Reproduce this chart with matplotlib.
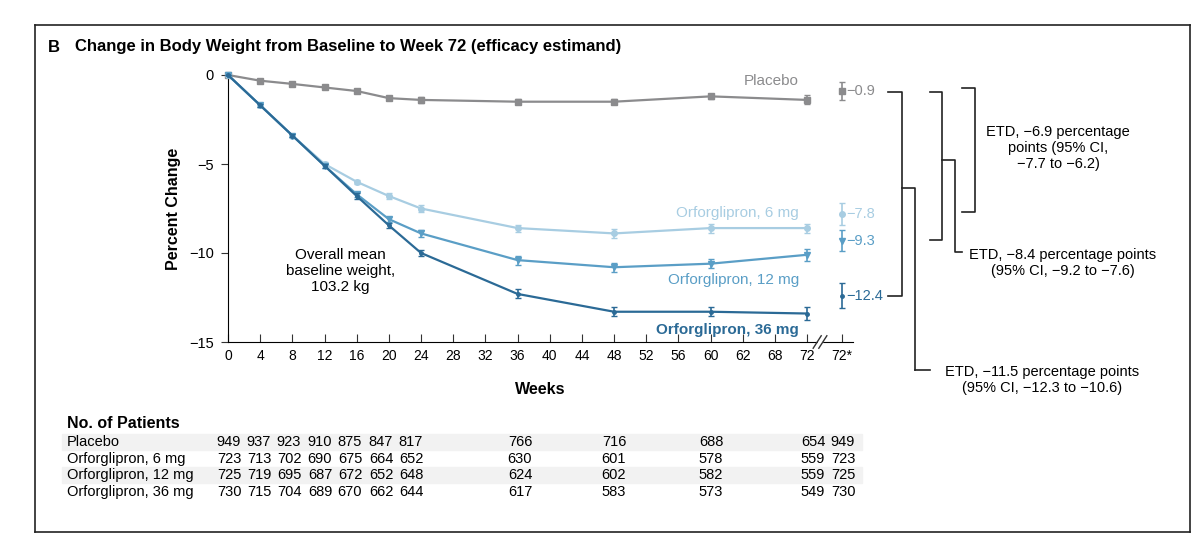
import matplotlib
matplotlib.use("Agg")
import matplotlib.pyplot as plt
from matplotlib.lines import Line2D
from matplotlib.patches import Rectangle

plt.rcParams['font.family'] = ['Liberation Sans', 'DejaVu Sans']

weeks = [0, 4, 8, 12, 16, 20, 24, 36, 48, 60, 72]
placebo = [0, -0.32, -0.5, -0.7, -0.9, -1.3, -1.4, -1.5, -1.5, -1.2, -1.4]
placebo_err = [0, 0.08, 0.08, 0.1, 0.1, 0.12, 0.15, 0.15, 0.15, 0.15, 0.25]
mg6 = [0, -1.7, -3.4, -5.0, -6.0, -6.8, -7.5, -8.6, -8.9, -8.6, -8.6]
mg6_err = [0, 0.08, 0.1, 0.1, 0.12, 0.15, 0.18, 0.2, 0.25, 0.25, 0.25]
mg12 = [0, -1.7, -3.4, -5.1, -6.7, -8.1, -8.9, -10.4, -10.8, -10.6, -10.1]
mg12_err = [0, 0.08, 0.1, 0.1, 0.15, 0.15, 0.18, 0.25, 0.25, 0.25, 0.35]
mg36 = [0, -1.7, -3.4, -5.1, -6.8, -8.45, -10.0, -12.3, -13.3, -13.3, -13.4]
mg36_err = [0, 0.08, 0.1, 0.1, 0.15, 0.15, 0.18, 0.25, 0.25, 0.25, 0.35]

star_vals = [-0.9, -7.8, -9.3, -12.4]
star_err = [0.5, 0.6, 0.6, 0.7]
star_labels = ["\u22120.9", "\u22127.8", "\u22129.3", "\u221212.4"]

tick_weeks = list(range(0, 73, 4))
tick_labels = ["0", "4", "8", "12", "16", "20", "24", "28", "32", "36", "40", "44",
               "48", "52", "56", "60", "62", "68", "72"]

series_names = ["Placebo", "Orforglipron, 6 mg", "Orforglipron, 12 mg", "Orforglipron, 36 mg"]
colors = ["#8b8b8d", "#a8cde2", "#5a9ec6", "#2b6a96"]
markers = ["s", "o", "v", "."]

table_rows = [
    [949, 937, 923, 910, 875, 847, 817, 766, 716, 688, 654, 949],
    [723, 713, 702, 690, 675, 664, 652, 630, 601, 578, 559, 723],
    [725, 719, 695, 687, 672, 652, 648, 624, 602, 582, 559, 725],
    [730, 715, 704, 689, 670, 662, 644, 617, 583, 573, 549, 730],
]
table_col_px = [229, 259, 289, 320, 350, 381, 411, 520, 614, 711, 813, 843]

W, H = 1200, 548
fig = plt.figure(figsize=(12, 5.48), dpi=100)
ax = fig.add_axes([228 / W, 1 - 342 / H, (853 - 228) / W, (342 - 75) / H])
star_x = 76.3
ax.set_xlim(0, 77.7)
ax.set_ylim(-15, 0)

data = [(placebo, placebo_err), (mg6, mg6_err), (mg12, mg12_err), (mg36, mg36_err)]
for i, ((v, e), c, m) in enumerate(zip(data, colors, markers)):
    ax.errorbar(weeks, v, yerr=e, color=c, marker=m, ms=4 if m != "." else 5,
                lw=1.6, capsize=2.5, elinewidth=1.2, clip_on=False, zorder=3 + i)
    ax.errorbar([star_x], [star_vals[i]], yerr=[star_err[i]], color=c, marker=m,
                ms=4 if m != "." else 5, capsize=2.5, elinewidth=1.2, clip_on=False)
    ax.text(star_x + 0.6, star_vals[i], star_labels[i], color=c, fontsize=10.5,
            va="center", ha="left")

ax.text(71, -0.75, "Placebo", color=colors[0], fontsize=11, ha="right", va="bottom")
ax.text(71, -7.75, "Orforglipron, 6 mg", color=colors[1], fontsize=11, ha="right", va="center")
ax.text(71, -11.5, "Orforglipron, 12 mg", color=colors[2], fontsize=11, ha="right", va="center")
ax.text(71, -14.3, "Orforglipron, 36 mg", color=colors[3], fontsize=11, ha="right",
        va="center", fontweight="bold")
ax.text(14, -11.0, "Overall mean\nbaseline weight,\n103.2 kg", fontsize=11, ha="center",
        va="center", linespacing=1.2)

ax.set_xticks(tick_weeks + [star_x])
ax.set_xticklabels(tick_labels + ["72*"], fontsize=10.5)
ax.set_yticks([0, -5, -10, -15])
ax.set_yticklabels(["0", "\u22125", "\u221210", "\u221215"], fontsize=10.5)
ax.tick_params(direction="in", length=6, color="#333", pad=5)
ax.tick_params(axis="y", direction="out", length=5)
for s in ["top", "right"]:
    ax.spines[s].set_visible(False)
ax.spines["bottom"].set_position(("data", -15))
ax.set_xlabel("Weeks", fontsize=11.5, fontweight="bold", labelpad=14)
ax.set_ylabel("Percent Change", fontsize=11.5, fontweight="bold", labelpad=6)
# axis break marks
ax.add_patch(Rectangle((73.4, -15.2), 0.4, 0.4, color="white", clip_on=False, zorder=5))
for dx in (-0.35, 0.35):
    ax.plot([73.6 + dx - 0.5, 73.6 + dx + 0.5], [-15.35, -14.65], color="#333", lw=1,
            clip_on=False, zorder=6)

def fl(xs, ys, **kw):
    fig.add_artist(Line2D([x / W for x in xs], [1 - y / H for y in ys], color="#222",
                          lw=1.2, **kw))

# frame
fl([35, 1190], [25, 25]); fl([35, 35], [25, 532]); fl([1190, 1190], [25, 532])
fl([35, 1190], [532, 532])

# brackets
fl([888, 902, 902, 888], [92, 92, 296, 296])
fl([902, 915, 915], [188, 188, 370])
fl([915, 930], [370, 370])
fl([930, 942, 942, 930], [92, 92, 240, 240])
fl([942, 955, 955, 962], [160, 160, 252, 252])
fl([962, 975, 975, 962], [88, 88, 212, 212])
fig.text(1058 / W, 1 - 148 / H, "ETD, \u22126.9 percentage\npoints (95% CI,\n\u22127.7 to \u22126.2)",
         ha="center", va="center", fontsize=10.5, linespacing=1.15)
fig.text(1063 / W, 1 - 263 / H, "ETD, \u22128.4 percentage points\n(95% CI, \u22129.2 to \u22127.6)",
         ha="center", va="center", fontsize=10.5, linespacing=1.15)
fig.text(1042 / W, 1 - 380 / H, "ETD, \u221211.5 percentage points\n(95% CI, \u221212.3 to \u221210.6)",
         ha="center", va="center", fontsize=10.5, linespacing=1.15)

fig.text(48 / W, 1 - 47 / H, "B", fontsize=12, fontweight="bold", va="center")
fig.text(75 / W, 1 - 47 / H, "Change in Body Weight from Baseline to Week 72 (efficacy estimand)",
         fontsize=12, fontweight="bold", va="center")

# table
fig.text(67 / W, 1 - 423 / H, "No. of Patients", fontsize=11.5, fontweight="bold", va="center")
row_y = [442, 459, 475, 492]
for r, (name, vals, y) in enumerate(zip(series_names, table_rows, row_y)):
    if r % 2 == 0:
        fig.add_artist(Rectangle((62 / W, 1 - (y + 8) / H), (862 - 62) / W, 16 / H,
                                 color="#f2f2f2", zorder=0, transform=fig.transFigure))
    fig.text(67 / W, 1 - y / H, name, fontsize=10.5, va="center")
    for v, px in zip(vals, table_col_px):
        fig.text(px / W, 1 - y / H, str(v), fontsize=10.5, va="center", ha="center")

fig.savefig("out.png", dpi=100)
